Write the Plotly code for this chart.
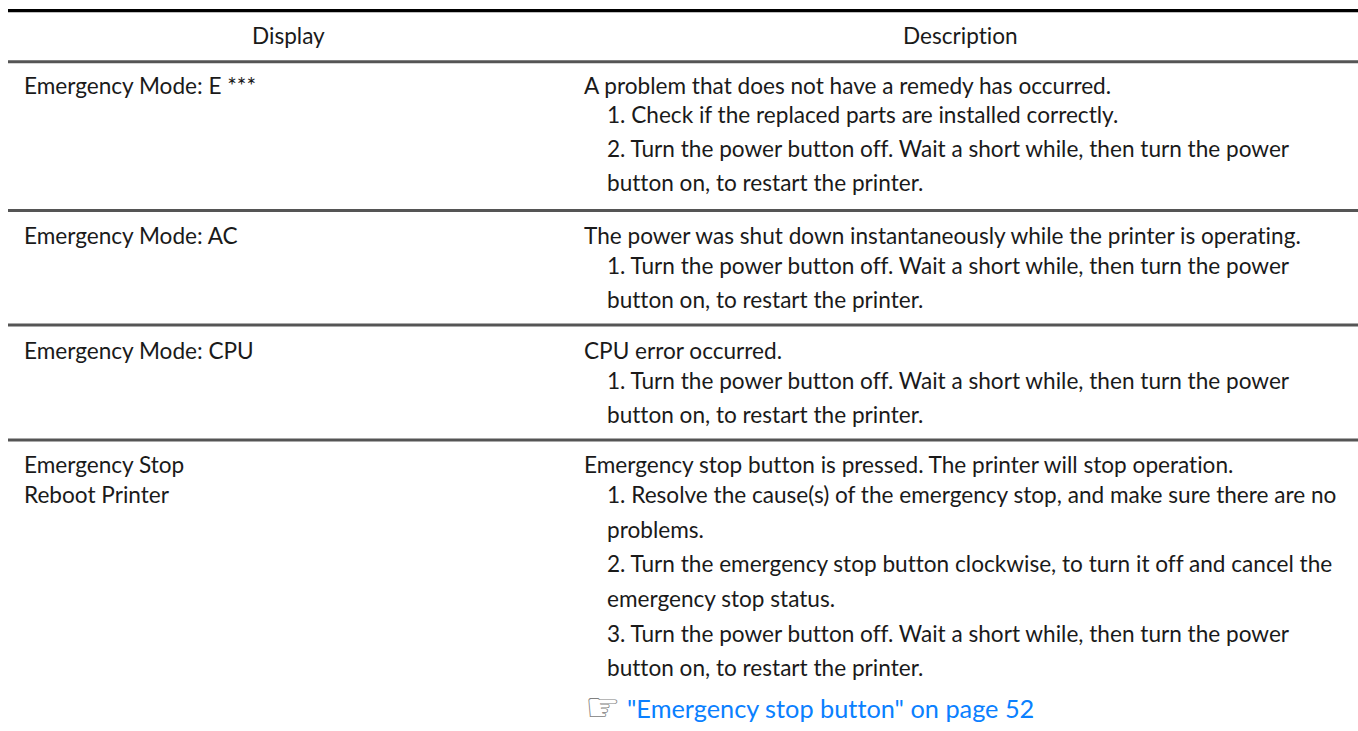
import plotly.graph_objects as go

FONT = "Lato"
headers = ["Display", "Description"]
display_lines = [["Emergency Mode: E ***"], ["Emergency Mode: AC"], ["Emergency Mode: CPU"],
                 ["Emergency Stop", "Reboot Printer"]]
desc_lines = [
    ["A problem that does not have a remedy has occurred.",
     "1. Check if the replaced parts are installed correctly.",
     "2. Turn the power button off. Wait a short while, then turn the power",
     "button on, to restart the printer."],
    ["The power was shut down instantaneously while the printer is operating.",
     "1. Turn the power button off. Wait a short while, then turn the power",
     "button on, to restart the printer."],
    ["CPU error occurred.",
     "1. Turn the power button off. Wait a short while, then turn the power",
     "button on, to restart the printer."],
    ["Emergency stop button is pressed. The printer will stop operation.",
     "1. Resolve the cause(s) of the emergency stop, and make sure there are no",
     "problems.",
     "2. Turn the emergency stop button clockwise, to turn it off and cancel the",
     "emergency stop status.",
     "3. Turn the power button off. Wait a short while, then turn the power",
     "button on, to restart the printer."],
]
link_text = '"Emergency stop button" on page 52'
hand = "\u261e"

TEXT = "#1a1a1a"
SIZE = 22.6
BASE = 7.5
desc_base = [[93, 122, 156, 190], [243, 273, 307], [358, 388, 422], [472, 502, 537, 571, 606, 641, 675]]
disp_base = [[93], [243], [358], [472, 502]]
link_base = 716
header_base = 43

ann = []
def add(x, y, t, color=TEXT, anchor="left", size=SIZE, family=FONT):
    ann.append(dict(x=x, y=y, xref="x", yref="y", text=t, showarrow=False, xanchor=anchor,
                    yanchor="middle", borderpad=0, borderwidth=0,
                    font=dict(family=family, size=size, color=color), align="left"))

add(288, header_base - BASE, headers[0], anchor="center")
add(960, header_base - BASE, headers[1], anchor="center")
for lines, ys in zip(display_lines, disp_base):
    for t, y in zip(lines, ys):
        add(24, y - BASE, t)
for lines, ys in zip(desc_lines, desc_base):
    for i, (t, y) in enumerate(zip(lines, ys)):
        add(584 if i == 0 else 607, y - BASE, t)
add(585, link_base - 9, hand, color="#808080", size=40, family="DejaVu Sans")
add(627, link_base - 8.3, link_text, color="#0a80ff", size=25.3)

shapes = []
for y, w, c in [(10.7, 3.3, "#000000"), (61.7, 3, "#555555"), (210.4, 3, "#555555"), (325, 3, "#555555"), (440, 3, "#555555")]:
    shapes.append(dict(type="line", xref="x", yref="y", x0=8, x1=1358, y0=y, y1=y, line=dict(color=c, width=w)))

fig = go.Figure()
fig.update_layout(width=1358, height=731, margin=dict(l=0, r=0, t=0, b=0), paper_bgcolor="white",
                  plot_bgcolor="white", annotations=ann, shapes=shapes, showlegend=False,
                  xaxis=dict(range=[0, 1358], visible=False, fixedrange=True),
                  yaxis=dict(range=[731, 0], visible=False, fixedrange=True))
post = ("document.body.style.margin='0';document.body.style.overflow='hidden';"
        "var s=document.createElement('style');"
        "s.textContent='svg text{font-variant-ligatures:none !important;font-feature-settings:\"liga\" 0,\"clig\" 0 !important}';"
        "document.head.appendChild(s);")
fig.write_html("out.html", config=dict(displayModeBar=False), post_script=post)
